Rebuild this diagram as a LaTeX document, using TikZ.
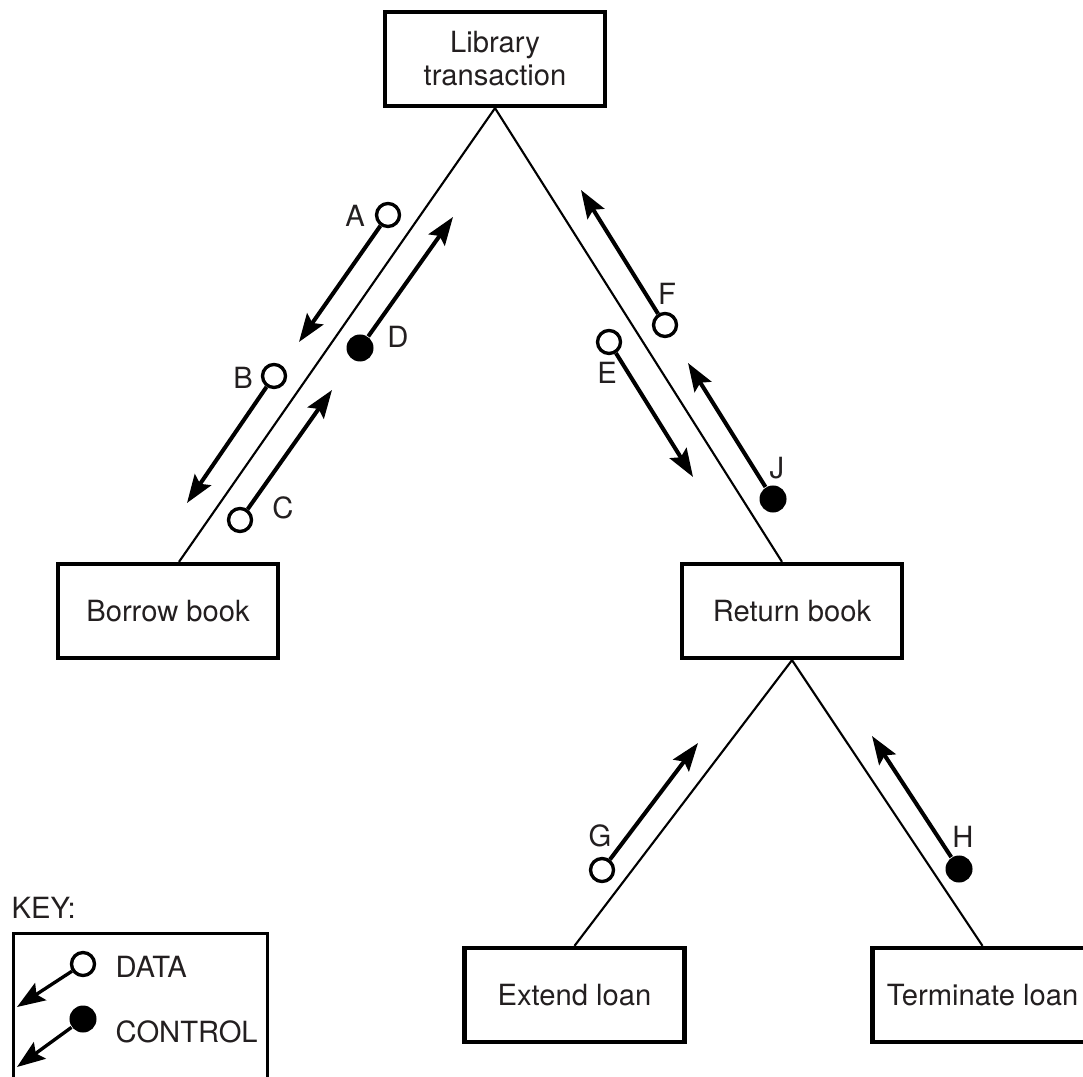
\documentclass[tikz,border=0pt]{standalone}
\usepackage{fontspec}
\setmainfont{TeX Gyre Heros}
\usetikzlibrary{arrows.meta}
\definecolor{txt}{RGB}{35,31,32}
\begin{document}
\begin{tikzpicture}[x=0.01cm,y=-0.01cm,
  lab/.style={font=\fontsize{8.3pt}{9.4pt}\selectfont, text=txt, inner sep=0pt},
  module/.style={lab, draw=black, line width=1.2pt, minimum width=2.2cm, minimum height=0.94cm, align=center},
  link/.style={line width=0.6pt},
  datac/.style={circle, draw=black, fill=white, line width=0.95pt, minimum size=0.23cm, inner sep=0pt},
  ctrlc/.style={circle, fill=black, minimum size=0.27cm, inner sep=0pt},
  flow/.style={line width=1.15pt, -{Stealth[length=8pt,width=5.6pt,inset=1.4pt]}},
  keyflow/.style={line width=0.95pt, -{Stealth[length=8pt,width=5.8pt,inset=1.4pt]}}]
\useasboundingbox (0,0) rectangle (1083,1077);
\clip (0,0) rectangle (1083,1077);
% modules
\node[module] (lib) at (495,59) {Library\\transaction};
\node[module] (bor) at (168,611) {Borrow book};
\node[module] (ret) at (792,611) {Return book};
\node[module] (ext) at (574.5,995) {Extend loan};
\node[module] (ter) at (982.5,995) {Terminate loan};
% links
\draw[link] (lib.south) -- ([xshift=0.11cm]bor.north);
\draw[link] (lib.south) -- ([xshift=-0.1cm]ret.north);
\draw[link] (ret.south) -- (ext.north);
\draw[link] (ret.south) -- (ter.north);
% flows
\node[datac] (cA) at (388,215) {};
\coordinate (tA) at (299,342);
\draw[flow] (cA) -- (tA);
\node[lab] (lA) at (355,216) {A};
\node[ctrlc] (cD) at (360,348) {};
\coordinate (tD) at (453,217);
\draw[flow] (cD) -- (tD);
\node[lab] (lD) at (398,337) {D};
\node[datac] (cB) at (274,376) {};
\coordinate (tB) at (187,503);
\draw[flow] (cB) -- (tB);
\node[lab] (lB) at (243,378) {B};
\node[datac] (cC) at (240,520) {};
\coordinate (tC) at (332,390);
\draw[flow] (cC) -- (tC);
\node[lab] (lC) at (283,508) {C};
\node[datac] (cF) at (665,325) {};
\coordinate (tF) at (581,190);
\draw[flow] (cF) -- (tF);
\node[lab] (lF) at (667,294) {F};
\node[datac] (cE) at (609,342) {};
\coordinate (tE) at (693,477);
\draw[flow] (cE) -- (tE);
\node[lab] (lE) at (607,373) {E};
\node[ctrlc] (cJ) at (773,499) {};
\coordinate (tJ) at (688,363);
\draw[flow] (cJ) -- (tJ);
\node[lab] (lJ) at (777,468) {J};
\node[datac] (cG) at (602,870) {};
\coordinate (tG) at (698,743);
\draw[flow] (cG) -- (tG);
\node[lab] (lG) at (600,836) {G};
\node[ctrlc] (cH) at (959,869) {};
\coordinate (tH) at (872,736);
\draw[flow] (cH) -- (tH);
\node[lab] (lH) at (963,837) {H};
% key
\node[lab, anchor=west] (key) at (11,908) {KEY:};
\node[draw=black, line width=0.9pt, minimum width=2.54cm, minimum height=1.6cm, inner sep=0pt, anchor=north west] (keybox) at (12,932) {};
\node[datac] (kd) at (83,964) {};
\coordinate (kdt) at (17,1007);
\draw[keyflow] (kd) -- (kdt);
\node[lab, anchor=west] (kdl) at (115,967) {DATA};
\node[ctrlc] (kc) at (83,1019) {};
\coordinate (kct) at (17,1067);
\draw[keyflow] (kc) -- (kct);
\node[lab, anchor=west] (kcl) at (115,1032) {CONTROL};
\end{tikzpicture}
\end{document}
